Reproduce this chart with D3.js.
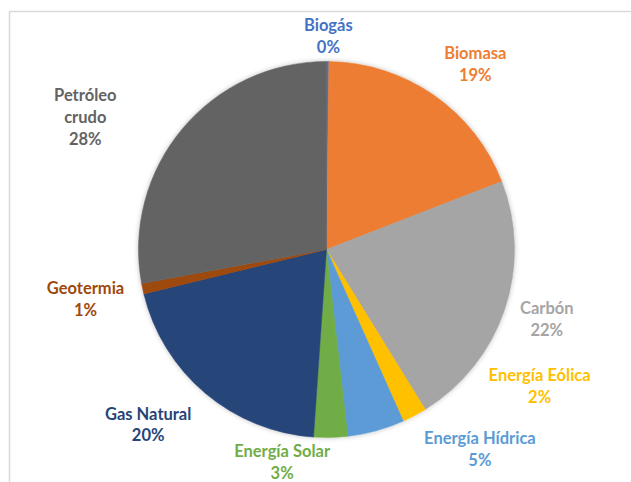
<!DOCTYPE html>
<html>
<head>
<meta charset="utf-8">
<script src="https://cdn.jsdelivr.net/npm/d3@7"></script>
<style>
  html, body { margin: 0; padding: 0; background: #fff; }
  svg { display: block; }
  .lbl { font-family: Lato, "Liberation Sans", sans-serif; font-weight: 700; font-size: 16.5px; }
</style>
</head>
<body>
<div id="chart"></div>
<script>
// slice data (clockwise from 12 o'clock)
const categories = ["Biogás", "Biomasa", "Carbón", "Energía Eólica", "Energía Hídrica",
  "Energía Solar", "Gas Natural", "Geotermia", "Petróleo crudo"];
const shares = [0.2, 18.9, 22.1, 2.1, 4.9, 2.9, 20.1, 0.9, 27.9];
const colors = ["#4472C4", "#ED7D31", "#A5A5A5", "#FFC000", "#5B9BD5",
  "#70AD47", "#264478", "#9E480E", "#636363"];
// label lines (Excel wraps some names)
const labelLines = [["Biogás"], ["Biomasa"], ["Carbón"], ["Energía Eólica"], ["Energía Hídrica"],
  ["Energía Solar"], ["Gas Natural"], ["Geotermia"], ["Petróleo", "crudo"]];

// where Excel put the data labels: angle (deg from top) and distance from center
const labelAngle = [0.5, 38.7, 107.5, 122.6, 142.5, 191.8, 225.5, 258.4, 298.7];
const labelDist = [213, 238, 231, 253, 252, 217, 250, 246, 275];

const width = 631, height = 482;
const cx = 326.5, cy = 249.5, radius = 188;
const lineH = 22;

const svg = d3.select("#chart").append("svg")
  .attr("width", width)
  .attr("height", height);

// chart area border (only top/left visible)
svg.append("rect")
  .attr("x", 9.5).attr("y", 11.5)
  .attr("width", width + 20).attr("height", height + 20)
  .attr("fill", "none")
  .attr("stroke", "#d9d9d9")
  .attr("stroke-width", 1.5);

const defs = svg.append("defs");
const shadow = defs.append("filter").attr("id", "shadow")
  .attr("x", "-10%").attr("y", "-10%").attr("width", "120%").attr("height", "120%");
shadow.append("feDropShadow")
  .attr("dx", 0).attr("dy", 0)
  .attr("stdDeviation", 2.5)
  .attr("flood-color", "#000")
  .attr("flood-opacity", 0.25);

const data = categories.map((c, i) => ({ name: c, value: shares[i], i }));
const total = d3.sum(shares);

const pie = d3.pie().value(d => d.value).sort(null);
const arc = d3.arc().innerRadius(0).outerRadius(radius);
const arcs = pie(data);

const g = svg.append("g").attr("transform", `translate(${cx},${cy})`);

g.append("g").attr("filter", "url(#shadow)")
  .selectAll("path")
  .data(arcs)
  .join("path")
  .attr("d", arc)
  .attr("fill", d => colors[d.data.i])
  .attr("stroke", d => colors[d.data.i])
  .attr("stroke-width", 0.5);

// data labels
const labels = g.selectAll("text.lbl")
  .data(arcs)
  .join("text")
  .attr("class", "lbl")
  .attr("text-anchor", "middle")
  .attr("fill", d => colors[d.data.i])
  .attr("transform", d => {
    const a = labelAngle[d.data.i] * Math.PI / 180;
    const r = labelDist[d.data.i];
    const p = d3.arc().innerRadius(r).outerRadius(r).startAngle(a).endAngle(a).centroid();
    return `translate(${p[0]},${p[1]})`;
  });

labels.each(function (d) {
  const lines = labelLines[d.data.i].concat([Math.round(d.data.value / total * 100) + "%"]);
  const n = lines.length;
  d3.select(this).selectAll("tspan")
    .data(lines)
    .join("tspan")
    .attr("x", 0)
    .attr("y", (t, k) => (k - (n - 1) / 2) * lineH)
    .attr("dy", "0.35em")
    .text(t => t);
});
</script>
</body>
</html>
